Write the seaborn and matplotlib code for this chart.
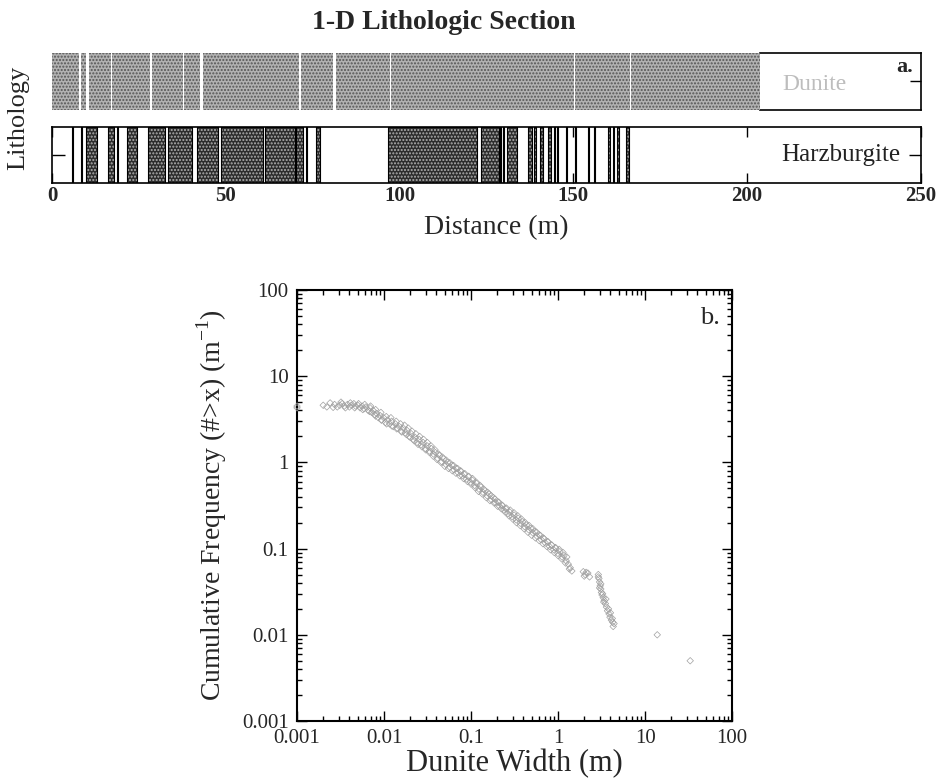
import numpy as np
import pandas as pd
import matplotlib
matplotlib.use("Agg")
import matplotlib.pyplot as plt
import seaborn as sns
from matplotlib.ticker import LogLocator, NullFormatter

# ---------------- data ----------------
# Panel a: dunite (top row) intervals, start and width in metres
dun_start = [0.0, 8.3, 10.6, 17.4, 28.9, 37.9, 43.4, 71.6, 81.7, 97.6, 122.7, 150.4, 166.6]
dun_width = [7.7, 1.6, 6.4, 10.9, 8.8, 4.8, 27.6, 9.1, 15.6, 24.9, 27.4, 16.0, 37.1]

# Panel a: harzburgite (bottom row) intervals, start and width in metres
harz_start = [5.7, 8.2, 9.8, 16.2, 18.6, 21.7, 27.7, 33.5, 41.8, 48.5, 61.4, 70.2, 73.2, 76.0,
              96.8, 123.3, 128.9, 129.7, 130.8, 137.0, 138.6, 140.4, 142.8, 144.3, 145.2, 148.0,
              150.5, 154.2, 156.0, 160.0, 161.5, 162.6, 165.0]
harz_width = [0.4, 0.5, 3.1, 1.6, 0.5, 2.7, 4.8, 6.7, 6.0, 12.1, 8.5, 2.1, 0.2, 1.1,
              25.4, 5.3, 0.3, 0.3, 2.9, 1.0, 0.5, 0.8, 0.8, 0.3, 0.3, 0.3,
              0.3, 0.2, 0.2, 0.4, 0.2, 0.4, 1.0]

dist_ticks = [0, 50, 100, 150, 200, 250]

# Panel b: dunite width (m) vs cumulative frequency (#>x per m) -- centre of the band
width_m = [0.001, 0.001,
           0.0020, 0.0022, 0.0027, 0.0029, 0.0031, 0.0033, 0.0035, 0.0038, 0.0040, 0.0042,
           0.0045, 0.0047, 0.0050, 0.0053, 0.0056, 0.0059, 0.0062, 0.0066, 0.0069, 0.0072,
           0.0075, 0.0078, 0.0082, 0.0086, 0.0090, 0.0094, 0.0099, 0.0104, 0.0110, 0.0116,
           0.0122, 0.0128, 0.0135, 0.0142, 0.0150, 0.0158, 0.0166, 0.0175, 0.0184, 0.0194,
           0.0205, 0.0216, 0.0228, 0.0240, 0.0253, 0.0267, 0.0282, 0.0298, 0.0315, 0.0332,
           0.0350, 0.0370, 0.0390, 0.0412, 0.0435, 0.0460, 0.0485, 0.0512, 0.0540, 0.0570,
           0.0602, 0.0636, 0.0672, 0.0710, 0.0750, 0.0792, 0.0836, 0.0883, 0.0933, 0.0985,
           0.104, 0.110, 0.116, 0.123, 0.130, 0.137, 0.145, 0.153, 0.162, 0.171, 0.181, 0.191,
           0.202, 0.213, 0.225, 0.238, 0.251, 0.265, 0.280, 0.296, 0.313, 0.330, 0.349, 0.369,
           0.390, 0.412, 0.435, 0.460, 0.486, 0.513, 0.542, 0.573, 0.605, 0.640, 0.676, 0.714,
           0.755, 0.797, 0.843, 0.890, 0.941, 0.994, 1.05, 1.11, 1.17, 1.24, 1.31, 1.38, 1.44,
           1.95, 2.05, 2.20, 2.30,
           2.90, 2.95, 3.00, 3.05, 3.10, 3.15, 3.20, 3.30, 3.40, 3.50, 3.60, 3.70, 3.85, 3.95,
           4.10, 4.25, 4.40,
           13.8, 33.0]
cum_freq = [4.5, 4.3,
            4.6, 4.4, 4.7, 4.4, 4.6, 4.8, 4.5, 4.7, 4.4, 4.6,
            4.8, 4.5, 4.6, 4.3, 4.5, 4.2, 4.4, 4.0, 4.3, 3.8,
            4.0, 3.6, 3.7, 3.3, 3.5, 3.1, 3.3, 2.9, 3.1, 2.8,
            3.0, 2.6, 2.8, 2.5, 2.6, 2.3, 2.5, 2.2, 2.35, 2.0,
            2.15, 1.85, 1.95, 1.7, 1.85, 1.6, 1.7, 1.45, 1.55, 1.35,
            1.45, 1.25, 1.3, 1.12, 1.2, 1.02, 1.1, 0.95, 1.0, 0.88,
            0.93, 0.82, 0.86, 0.76, 0.80, 0.70, 0.73, 0.64, 0.68, 0.59,
            0.62, 0.54, 0.57, 0.49, 0.52, 0.45, 0.47, 0.41, 0.43, 0.37, 0.39, 0.34,
            0.35, 0.31, 0.32, 0.28, 0.29, 0.255, 0.265, 0.235, 0.245, 0.215, 0.225, 0.197,
            0.205, 0.180, 0.188, 0.165, 0.172, 0.152, 0.158, 0.139, 0.145, 0.127, 0.133, 0.116,
            0.121, 0.106, 0.110, 0.097, 0.101, 0.088, 0.092, 0.080, 0.083, 0.072, 0.066, 0.060, 0.055,
            0.054, 0.050, 0.052, 0.047,
            0.050, 0.045, 0.041, 0.037, 0.034, 0.031, 0.029, 0.027, 0.025, 0.023, 0.021, 0.019, 0.0175, 0.016,
            0.0148, 0.0140, 0.0135,
            0.010, 0.005]

# upper edge of the band
width_up = [0.0024, 0.0032, 0.0041, 0.0051, 0.0060, 0.0070, 0.0080, 0.0092, 0.0106, 0.0120,
            0.0138, 0.0155, 0.0172, 0.0190, 0.0210, 0.0232, 0.0257, 0.0285, 0.0315, 0.0348,
            0.0385, 0.0425, 0.047, 0.052, 0.057, 0.063, 0.070, 0.077, 0.085, 0.094,
            0.104, 0.115, 0.127, 0.140, 0.155, 0.171, 0.189, 0.209, 0.231, 0.255,
            0.282, 0.312, 0.345, 0.380, 0.420, 0.465, 0.513, 0.567, 0.627, 0.693,
            0.766, 0.846, 0.935, 1.03, 1.14, 1.26]
freq_up = [4.9, 5.0, 4.9, 4.8, 4.7, 4.5, 4.1, 3.8, 3.4, 3.3,
           3.0, 2.8, 2.7, 2.5, 2.3, 2.15, 2.0, 1.85, 1.7, 1.55,
           1.40, 1.25, 1.15, 1.06, 0.99, 0.92, 0.85, 0.79, 0.74, 0.69,
           0.65, 0.59, 0.54, 0.49, 0.45, 0.41, 0.375, 0.345, 0.315, 0.295,
           0.28, 0.26, 0.24, 0.22, 0.20, 0.185, 0.17, 0.155, 0.142, 0.130,
           0.120, 0.110, 0.103, 0.098, 0.090, 0.080]

# lower edge of the band and the large-width cluster
width_lo = [0.0026, 0.0036, 0.0046, 0.0057, 0.0068, 0.0080, 0.0093, 0.0107, 0.0123, 0.0140,
            0.0160, 0.0181, 0.0200, 0.0222, 0.0246, 0.0272, 0.0301, 0.0333, 0.0368, 0.0407,
            0.045, 0.050, 0.055, 0.061, 0.067, 0.074, 0.082, 0.091, 0.100, 0.111,
            0.122, 0.135, 0.150, 0.165, 0.183, 0.202, 0.223, 0.247, 0.273, 0.302,
            0.333, 0.368, 0.407, 0.450, 0.497, 0.550, 0.607, 0.671, 0.742, 0.820,
            0.906, 1.00, 1.10, 1.22, 1.35,
            2.00, 2.10, 2.90, 3.00, 3.10, 3.25, 3.35, 3.55, 3.80, 4.00, 4.20, 4.30]
freq_lo = [4.35, 4.3, 4.3, 4.1, 3.9, 3.45, 3.1, 2.8, 2.65, 2.45,
           2.25, 2.1, 1.95, 1.78, 1.62, 1.52, 1.40, 1.30, 1.18, 1.08,
           1.00, 0.90, 0.85, 0.80, 0.75, 0.70, 0.65, 0.60, 0.56, 0.51,
           0.46, 0.43, 0.39, 0.36, 0.34, 0.31, 0.29, 0.265, 0.24, 0.22,
           0.20, 0.185, 0.17, 0.155, 0.143, 0.133, 0.124, 0.114, 0.106, 0.097,
           0.090, 0.083, 0.076, 0.068, 0.058,
           0.048, 0.053, 0.047, 0.035, 0.039, 0.030, 0.024, 0.026, 0.020, 0.018, 0.0155, 0.0125]

log_ticks = [0.001, 0.01, 0.1, 1, 10, 100]
log_labels = ["0.001", "0.01", "0.1", "1", "10", "100"]

df_b = pd.DataFrame({
    "width": width_m + width_up + width_lo,
    "freq": cum_freq + freq_up + freq_lo,
})

# ---------------- style ----------------
sns.set_theme(style="ticks")
plt.rcParams["font.family"] = ["Liberation Serif", "DejaVu Serif"]
plt.rcParams["mathtext.fontset"] = "custom"
plt.rcParams["mathtext.rm"] = "Liberation Serif"
plt.rcParams["hatch.linewidth"] = 1.0

fig = plt.figure(figsize=(9.37, 7.81), dpi=100)
ax_d = fig.add_axes([0.0555, 0.8592, 0.9274, 0.0730])
ax_h = fig.add_axes([0.0555, 0.7657, 0.9274, 0.0717])
ax_b = fig.add_axes([0.3170, 0.0768, 0.4643, 0.5519])

# ---------- panel a: dunite row ----------
ax_d.set_xlim(0, 250)
ax_d.set_ylim(0, 1)
ax_d.broken_barh(list(zip(dun_start, dun_width)), (0, 1), facecolors="#b2b2b2",
                 edgecolors="#555555", hatch=".....", linewidth=0, zorder=3)
ax_d.spines["left"].set_visible(False)
for s in ["top", "bottom"]:
    ax_d.spines[s].set_bounds(203.7, 250)
for s in ax_d.spines.values():
    s.set_linewidth(1.2)
    s.set_color("black")
ax_d.set_xticks([])
ax_d.set_yticks([0.5])
ax_d.tick_params(axis="y", direction="in", left=False, right=True, labelleft=False,
                 labelright=False, length=8, width=1, color="black")
ax_d.text(219.5, 0.45, "Dunite", ha="center", va="center", fontsize=17, color="#bdbdbd")
ax_d.text(247.8, 0.76, "a.", ha="right", va="center", fontsize=16, fontweight="bold")

# ---------- panel a: harzburgite row ----------
ax_h.set_xlim(0, 250)
ax_h.set_ylim(0, 1)
harz = list(zip(harz_start, harz_width))
ax_h.broken_barh(harz, (0, 1), facecolors="#2c2c2c", edgecolors="#b0b0b0",
                 hatch=".....", linewidth=0, zorder=2)
ax_h.broken_barh(harz, (0, 1), facecolors="none", edgecolors="black",
                 linewidth=0.8, zorder=2.2)
for s in ax_h.spines.values():
    s.set_linewidth(1.2)
    s.set_color("black")
ax_h.set_xticks(dist_ticks)
ax_h.set_xticklabels([str(t) for t in dist_ticks], fontsize=15, fontweight="bold")
ax_h.set_yticks([0.5])
ax_h.tick_params(axis="x", direction="in", top=True, bottom=True, length=7, width=1,
                 pad=2, color="black")
ax_h.tick_params(axis="y", direction="in", left=True, right=True, labelleft=False,
                 length=9, width=1, color="black")
ax_h.text(227, 0.5, "Harzburgite", ha="center", va="center", fontsize=18, color="#222222")

fig.text(0.474, 0.971, "1-D Lithologic Section", ha="center", va="center",
         fontsize=20, fontweight="bold")
fig.text(0.530, 0.708, "Distance (m)", ha="center", va="center", fontsize=20)
fig.text(0.019, 0.849, "Lithology", ha="center", va="center", rotation=90, fontsize=19)

# ---------- panel b ----------
sns.scatterplot(data=df_b, x="width", y="freq", ax=ax_b, marker="D", s=11,
                facecolor="none", edgecolor="#a0a0a0", linewidth=0.5, legend=False,
                zorder=3, clip_on=False)
ax_b.set_xscale("log")
ax_b.set_yscale("log")
ax_b.set_xlim(1e-3, 1e2)
ax_b.set_ylim(1e-3, 1e2)
ax_b.set_xticks(log_ticks)
ax_b.set_xticklabels(log_labels, fontsize=15)
ax_b.set_yticks(log_ticks)
ax_b.set_yticklabels(log_labels, fontsize=15)
for axis in (ax_b.xaxis, ax_b.yaxis):
    axis.set_minor_locator(LogLocator(base=10, subs=np.arange(2, 10), numticks=100))
    axis.set_minor_formatter(NullFormatter())
ax_b.tick_params(which="both", direction="in", top=True, right=True, color="black", width=1)
ax_b.tick_params(which="major", length=7, pad=6)
ax_b.tick_params(which="minor", length=3.5)
for s in ax_b.spines.values():
    s.set_linewidth(1.5)
    s.set_color("black")
ax_b.set_xlabel("")
ax_b.set_ylabel("")
ax_b.text(0.972, 0.935, "b.", transform=ax_b.transAxes, ha="right", va="center", fontsize=19)

fig.text(0.549, 0.022, "Dunite Width (m)", ha="center", va="center", fontsize=22)
fig.text(0.2263, 0.3534, r"Cumulative Frequency (#>x) (m$^{\mathregular{-1}}$)",
         ha="center", va="center", rotation=90, fontsize=20)

fig.savefig("out.png", dpi=100)
